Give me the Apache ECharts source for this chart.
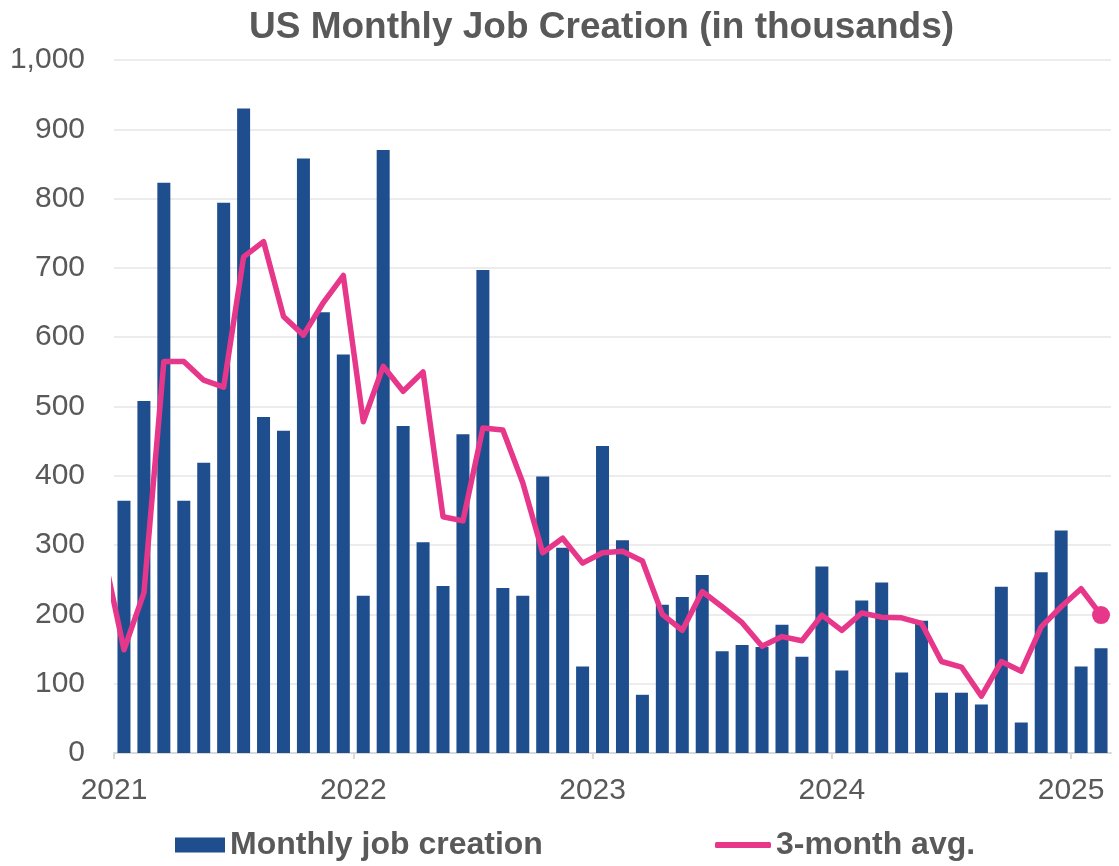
<!DOCTYPE html>
<html>
<head>
<meta charset="utf-8">
<title>US Monthly Job Creation</title>
<script src="https://cdn.jsdelivr.net/npm/echarts@6/dist/echarts.min.js"></script>
<style>
  html, body { margin: 0; padding: 0; background: #ffffff; }
  #chart { width: 1119px; height: 866px; }
</style>
</head>
<body>
<div id="chart"></div>
<script>
// Months covered by the chart (the 3-month average also has the preceding December).
const months = [
  '2020-12',
  '2021-01','2021-02','2021-03','2021-04','2021-05','2021-06','2021-07','2021-08','2021-09','2021-10','2021-11','2021-12',
  '2022-01','2022-02','2022-03','2022-04','2022-05','2022-06','2022-07','2022-08','2022-09','2022-10','2022-11','2022-12',
  '2023-01','2023-02','2023-03','2023-04','2023-05','2023-06','2023-07','2023-08','2023-09','2023-10','2023-11','2023-12',
  '2024-01','2024-02','2024-03','2024-04','2024-05','2024-06','2024-07','2024-08','2024-09','2024-10','2024-11','2024-12',
  '2025-01','2025-02'
];

// Monthly job creation, thousands (Dec 2020 falls outside the plotted range).
const jobs = [
  null,
  364, 508, 823, 364, 419, 794, 930, 485, 465, 858, 636, 575,
  227, 870, 472, 304, 241, 460, 697, 238, 227, 399, 296, 125,
  443, 307, 84, 214, 225, 257, 147, 156, 153, 185, 139, 269,
  119, 220, 246, 116, 191, 87, 87, 70, 240, 44, 261, 321,
  125, 151
];

// 3-month moving average, thousands.
const avg3 = [
  285,
  149, 231, 565, 565, 538, 528, 716, 738, 630, 603, 650, 689,
  478, 558, 522, 550, 341, 335, 469, 466, 390, 289, 310, 274,
  289, 291, 277, 200, 177, 233, 211, 188, 154, 168, 162, 199,
  177, 202, 196, 195, 187, 132, 124, 82, 132, 118, 182, 211,
  237, 199
];

const yearLabels = ['2021', '2022', '2023', '2024', '2025'];
const startYear = 2021;
const monthSpan = 50; // Jan 2021 through Feb 2025

const FONT = "'Liberation Sans', Arial, Helvetica, sans-serif";
const TEXT = '#595959';
const BLUE = '#1F4E8E';
const PINK = '#E7378A';

// Month string -> position on the x scale (month centre, Jan 2021 = 0.5).
function monthPos(m) {
  const [y, mo] = m.split('-').map(Number);
  return (y - startYear) * 12 + (mo - 1) + 0.5;
}
// Year label -> boundary position (start of January).
const yearTicks = yearLabels.map(y => (Number(y) - startYear) * 12);

const barData = [];
months.forEach((m, i) => {
  if (jobs[i] !== null) barData.push([monthPos(m), jobs[i]]);
});
const lineData = months.map((m, i) => {
  const item = { value: [monthPos(m), avg3[i]] };
  if (i === months.length - 1) {
    item.symbol = 'circle';
    item.symbolSize = 18;
  }
  return item;
});

const chart = echarts.init(document.getElementById('chart'), null, { renderer: 'canvas' });

chart.setOption({
  animation: false,
  backgroundColor: '#ffffff',
  title: {
    text: 'US Monthly Job Creation (in thousands)',
    left: 244,
    top: 4,
    textStyle: { fontFamily: FONT, fontSize: 37, fontWeight: 'bold', color: TEXT }
  },
  legend: [
    {
      data: [{ name: 'Monthly job creation', icon: 'rect' }],
      left: 170,
      top: 824,
      itemWidth: 50,
      itemHeight: 15,
      textStyle: { fontFamily: FONT, fontSize: 32, fontWeight: 'bold', color: TEXT }
    },
    {
      data: [{ name: '3-month avg.', icon: 'roundRect' }],
      left: 710,
      top: 824,
      itemWidth: 56,
      itemHeight: 6,
      textStyle: { fontFamily: FONT, fontSize: 32, fontWeight: 'bold', color: TEXT }
    }
  ],
  grid: { left: 114, right: 8, top: 60, bottom: 113 },
  xAxis: {
    type: 'value',
    min: 0,
    max: monthSpan,
    interval: 12,
    axisLine: { show: true, lineStyle: { color: '#d9d9d9', width: 2 } },
    axisTick: {
      show: true,
      customValues: yearTicks,
      length: 6,
      lineStyle: { color: '#d9d9d9', width: 2 }
    },
    splitLine: { show: false },
    axisLabel: {
      customValues: yearTicks,
      margin: 23,
      fontFamily: FONT,
      fontSize: 30,
      color: TEXT,
      formatter: v => yearLabels[Math.round(v / 12)]
    }
  },
  yAxis: {
    type: 'value',
    min: 0,
    max: 1000,
    interval: 100,
    axisLine: { show: false },
    axisTick: { show: false },
    splitLine: { lineStyle: { color: '#e6e6e6', width: 1.5 } },
    axisLabel: {
      margin: 29,
      fontFamily: FONT,
      fontSize: 30,
      color: TEXT,
      formatter: v => v.toLocaleString('en-US')
    }
  },
  series: [
    {
      name: 'Monthly job creation',
      type: 'bar',
      data: barData,
      barWidth: 13,
      itemStyle: { color: BLUE },
      clip: true
    },
    {
      name: '3-month avg.',
      type: 'line',
      data: lineData,
      symbol: 'none',
      clip: true,
      itemStyle: { color: PINK },
      lineStyle: { color: PINK, width: 5.5, join: 'round' },
      z: 3
    }
  ]
});
</script>
</body>
</html>
